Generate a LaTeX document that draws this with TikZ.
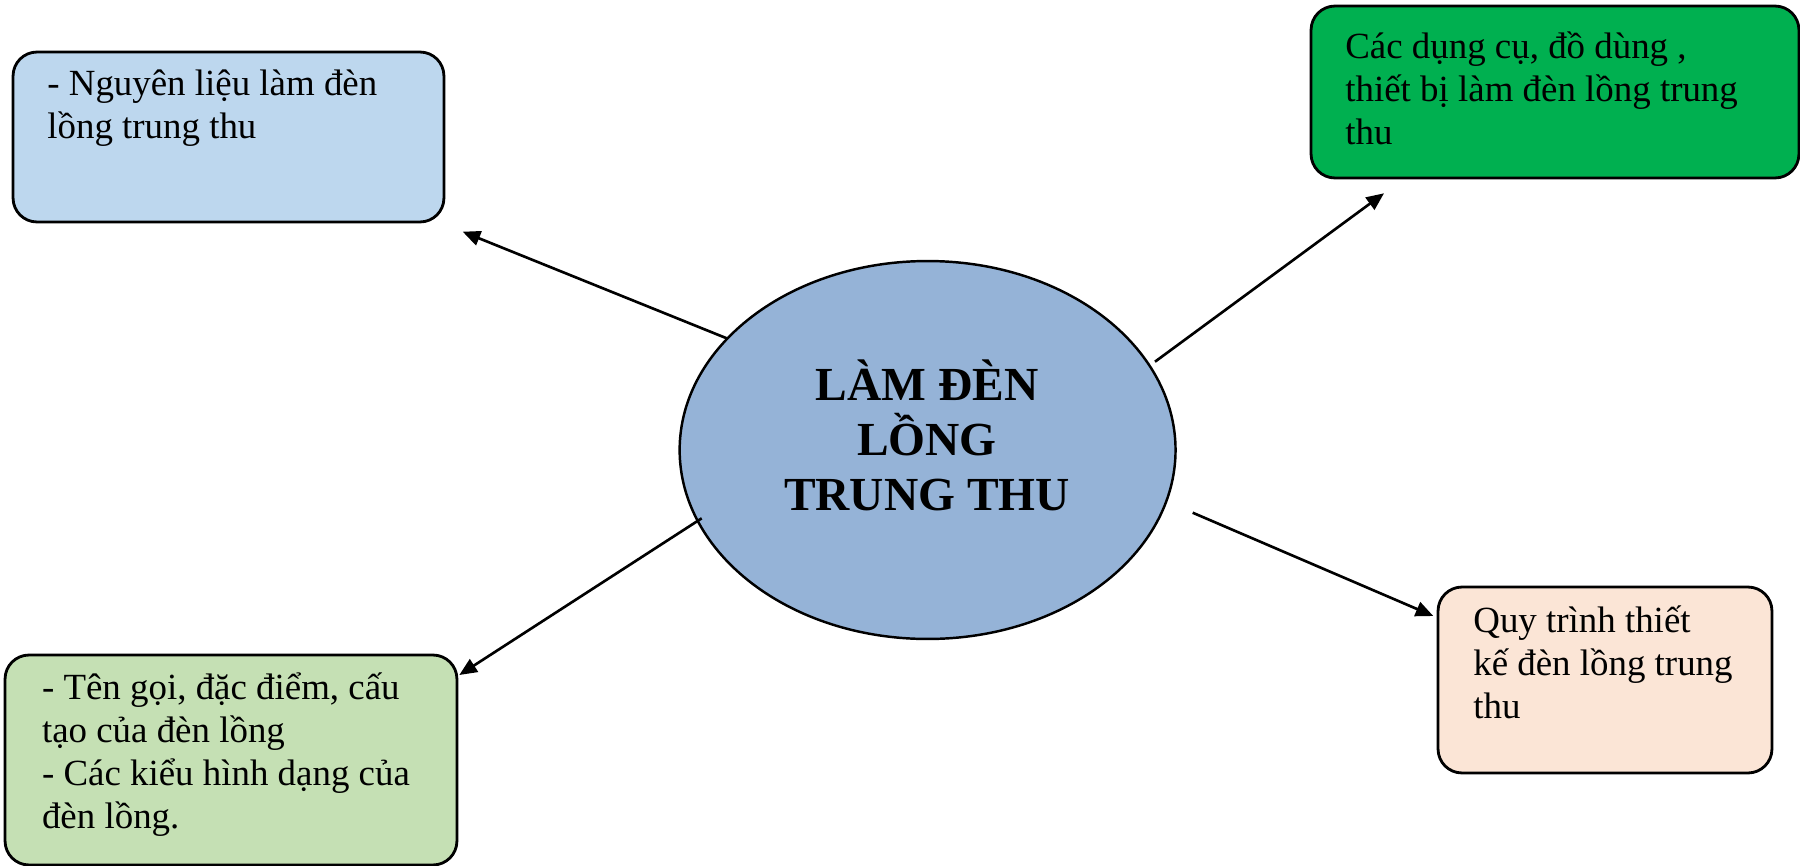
\documentclass[tikz,border=0pt]{standalone}
\usepackage{fontspec}
\setmainfont{Liberation Serif}
\usetikzlibrary{shapes.geometric,arrows.meta}
\definecolor{nlblue}{HTML}{BDD7EE}
\definecolor{dcgreen}{HTML}{00B050}
\definecolor{tgpale}{HTML}{C5E0B4}
\definecolor{qtpeach}{HTML}{FBE5D6}
\definecolor{lamblue}{HTML}{95B3D7}
\begin{document}
\begin{tikzpicture}[x=0.02cm,y=-0.02cm,
card/.style={draw,line width=1.6pt,rounded corners=0.48cm,inner sep=0pt},
cardtxt/.style={anchor=base west,inner sep=0pt,align=left,font=\fontsize{21}{24.3}\selectfont},
conn/.style={line width=1.5pt,-{Triangle[length=10pt,width=8.5pt]}}]
\useasboundingbox(0,0)rectangle(1800,866);
% centre
\node[draw,ellipse,fill=lamblue,line width=1.4pt,inner sep=0pt,minimum width=9.92cm,minimum height=7.56cm](lam)at(927.6,450){};
\node[anchor=base,align=center,inner sep=0pt,font=\bfseries\fontsize{27}{31.3}\selectfont](lamtxt)at(927,510){LÀM ĐÈN\\LỒNG\\TRUNG THU};
% boxes (text placed by its last baseline)
\node[card,fill=nlblue,minimum width=8.62cm,minimum height=3.4cm](nl)at(228.5,137){};
\node[cardtxt](nltxt)at(47,138){- Nguyên liệu làm đèn\\lồng trung thu};
\node[card,fill=dcgreen,minimum width=9.76cm,minimum height=3.44cm](dc)at(1555,92){};
\node[cardtxt](dctxt)at(1345,144){Các dụng cụ, đồ dùng ,\\thiết bị làm đèn lồng trung\\thu};
\node[card,fill=tgpale,minimum width=9.04cm,minimum height=4.2cm](tg)at(231,760){};
\node[cardtxt](tgtxt)at(41.7,828){- Tên gọi, đặc điểm, cấu\\tạo của đèn lồng\\- Các kiểu hình dạng của\\đèn lồng.};
\node[card,fill=qtpeach,minimum width=6.68cm,minimum height=3.72cm](qt)at(1605,680){};
\node[cardtxt](qttxt)at(1473,718){Quy trình thiết\\kế đèn lồng trung\\thu};
% arrows
\coordinate(s1)at(726.7,338.3);\coordinate(e1)at(462.7,231.7);
\coordinate(s2)at(1155,361.7);\coordinate(e2)at(1384,193.3);
\coordinate(s3)at(701.7,518.3);\coordinate(e3)at(459.3,675);
\coordinate(s4)at(1192.7,512.7);\coordinate(e4)at(1433.3,616);
\draw[conn](s1)--(e1);
\draw[conn](s2)--(e2);
\draw[conn](s3)--(e3);
\draw[conn](s4)--(e4);
\end{tikzpicture}
\end{document}
